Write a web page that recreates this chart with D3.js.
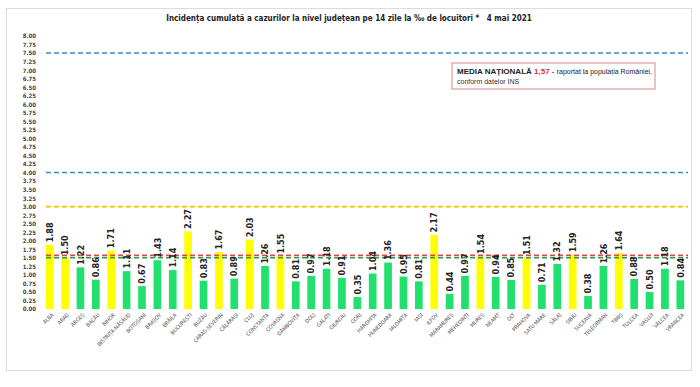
<!DOCTYPE html>
<html>
<head>
<meta charset="utf-8">
<script src="https://cdn.jsdelivr.net/npm/d3@7"></script>
<style>
    body { margin: 0; background: #fff; }
    svg { font-family: "Liberation Sans Narrow", "DejaVu Sans Condensed", "Liberation Sans", sans-serif; }
    .tick line, .domain { display: none; }
</style>
</head>
<body>
<div id="chart"></div>
<script>
// judete, in ordinea din grafic
var judete = ["ALBA", "ARAD", "ARGEȘ", "BACĂU", "BIHOR", "BISTRIȚA-NĂSĂUD", "BOTOȘANI", "BRAȘOV", "BRĂILA",
    "BUCUREȘTI", "BUZĂU", "CARAȘ-SEVERIN", "CĂLĂRAȘI", "CLUJ", "CONSTANȚA", "COVASNA", "DÂMBOVIȚA", "DOLJ",
    "GALAȚI", "GIURGIU", "GORJ", "HARGHITA", "HUNEDOARA", "IALOMIȚA", "IAȘI", "ILFOV", "MARAMUREȘ",
    "MEHEDINȚI", "MUREȘ", "NEAMȚ", "OLT", "PRAHOVA", "SATU MARE", "SĂLAJ", "SIBIU", "SUCEAVA", "TELEORMAN",
    "TIMIȘ", "TULCEA", "VASLUI", "VÂLCEA", "VRANCEA"];

var incidenta = [1.88, 1.50, 1.22, 0.86, 1.71, 1.11, 0.67, 1.43, 1.14,
    2.27, 0.83, 1.67, 0.89, 2.03, 1.26, 1.55, 0.81, 0.97,
    1.18, 0.91, 0.35, 1.04, 1.36, 0.95, 0.81, 2.17, 0.44,
    0.97, 1.54, 0.94, 0.85, 1.51, 0.71, 1.32, 1.59, 0.38, 1.26,
    1.64, 0.88, 0.50, 1.18, 0.84];

var yTicks = d3.range(0, 8.001, 0.25);

// praguri (linii punctate)
var praguri = [
    { v: 7.5, c: "#3b8fc0" },
    { v: 4.0, c: "#3b8fc0" },
    { v: 3.0, c: "#f2c200" },
    { v: 1.57, c: "#e0474c" },
    { v: 1.5, c: "#2f9a4a" }
];

var mediaNationala = "1,57";

var W = 700, H = 387;

var svg = d3.select("#chart").append("svg")
    .attr("width", W)
    .attr("height", H);

// chenar
svg.append("rect")
    .attr("x", 6.5).attr("y", 8.5)
    .attr("width", 685).attr("height", 362)
    .attr("fill", "none")
    .attr("stroke", "#dcdcdc");

svg.append("text")
    .attr("x", 349).attr("y", 21)
    .attr("text-anchor", "middle")
    .style("font-size", "8px")
    .style("font-weight", "bold")
    .attr("fill", "#222")
    .text("Incidența cumulată a cazurilor la nivel județean pe 14 zile la ‰ de locuitori *\u00a0\u00a0\u00a04 mai 2021");

var x = d3.scaleBand()
    .domain(judete)
    .range([42, 688])
    .paddingInner(0.5)
    .paddingOuter(0.25);

var y = d3.scaleLinear()
    .domain([0, 8])
    .range([309, 36]);

var yAxis = d3.axisLeft(y)
    .tickValues(yTicks)
    .tickSize(0)
    .tickPadding(0)
    .tickFormat(d3.format(".2f"));

svg.append("g")
    .attr("class", "y axis")
    .attr("transform", "translate(36,0)")
    .call(yAxis)
    .selectAll("text")
    .style("font-size", "6px")
    .style("font-weight", "bold")
    .style("font-family", "'Liberation Sans Narrow', 'DejaVu Sans Condensed', sans-serif")
    .attr("fill", "#444");

var xAxis = d3.axisBottom(x).tickSize(0).tickPadding(0);

svg.append("g")
    .attr("class", "x axis")
    .attr("transform", "translate(0,312)")
    .call(xAxis)
    .selectAll("text")
    .attr("y", 0)
    .attr("dy", "0.35em")
    .attr("text-anchor", "end")
    .attr("transform", "translate(3,2) rotate(-45)")
    .style("font-size", "5.4px")
    .style("font-family", "'Liberation Sans Narrow', 'DejaVu Sans Condensed', sans-serif")
    .attr("fill", "#555");

var data = judete.map(function (d, i) {
    return { judet: d, val: incidenta[i] };
});

svg.selectAll(".bar")
    .data(data)
    .enter().append("rect")
    .attr("class", "bar")
    .attr("x", function (d) { return x(d.judet); })
    .attr("width", x.bandwidth())
    .attr("y", function (d) { return y(d.val); })
    .attr("height", function (d) { return y(0) - y(d.val); })
    .attr("fill", function (d) { return d.val >= 1.5 ? "#ffff00" : "#22e06e"; });

svg.selectAll(".prag")
    .data(praguri)
    .enter().append("line")
    .attr("class", "prag")
    .attr("x1", 46).attr("x2", 688)
    .attr("y1", function (d) { return y(d.v); })
    .attr("y2", function (d) { return y(d.v); })
    .attr("stroke", function (d) { return d.c; })
    .attr("stroke-width", 1.6)
    .attr("stroke-dasharray", "5,3");

// valori deasupra barelor, rotite la -90
svg.selectAll(".val")
    .data(data)
    .enter().append("text")
    .attr("class", "val")
    .attr("transform", function (d) {
        return "translate(" + (x(d.judet) + x.bandwidth() / 2 + 3.2) + "," + (y(d.val) - 2.5) + ") rotate(-90)";
    })
    .style("font-size", "9px")
    .style("font-weight", "bold")
    .attr("fill", "#222")
    .text(function (d) { return d.val.toFixed(2); });

// caseta media nationala
var box = svg.append("g").attr("transform", "translate(452,63)");
box.append("rect")
    .attr("width", 203).attr("height", 26)
    .attr("fill", "#fff")
    .attr("stroke", "#d9838a")
    .attr("stroke-width", 1);

var t1 = box.append("text")
    .attr("x", 5).attr("y", 11)
    .style("font-size", "8px")
    .style("font-family", "'Liberation Sans', sans-serif")
    .attr("fill", "#222");
t1.append("tspan").style("font-weight", "bold").text("MEDIA NAȚIONALĂ ");
t1.append("tspan").style("font-weight", "bold").attr("fill", "#e0303a").text(mediaNationala);
t1.append("tspan").style("font-weight", "bold").attr("fill", "#e0303a").text(" - ");
t1.append("tspan").style("font-size", "7px").text("raportat la populația României,");

box.append("text")
    .attr("x", 5).attr("y", 21)
    .style("font-size", "7px")
    .style("font-family", "'Liberation Sans', sans-serif")
    .attr("fill", "#333")
    .text("conform datelor INS");
</script>
</body>
</html>
